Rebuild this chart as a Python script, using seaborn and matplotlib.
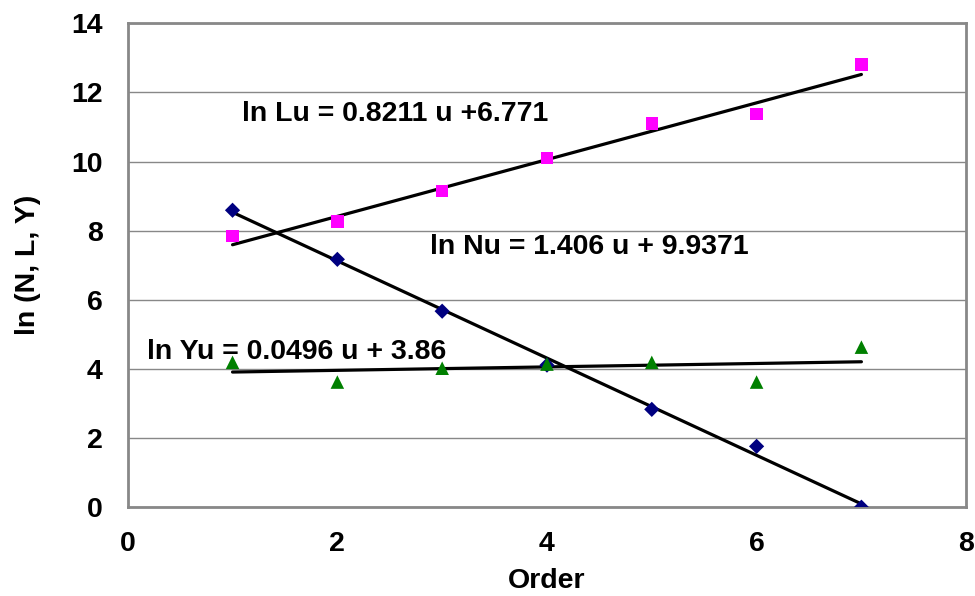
import numpy as np
import pandas as pd
import matplotlib
matplotlib.use("Agg")
import matplotlib.pyplot as plt
import seaborn as sns

# values
order = [1, 2, 3, 4, 5, 6, 7]
ln_L = [7.84, 8.27, 9.14, 10.1, 11.1, 11.37, 12.81]
ln_N = [8.59, 7.17, 5.67, 4.11, 2.83, 1.76, 0.0]
ln_Y = [4.19, 3.62, 4.02, 4.14, 4.19, 3.62, 4.63]

# trendline coefficients as printed in the equations
fit_slopes = {"L": 0.8211, "N": -1.406, "Y": 0.0496}
fit_inters = {"L": 6.771, "N": 9.9371, "Y": 3.86}
eq_labels = {
    "L": "ln Lu = 0.8211 u +6.771",
    "N": "ln Nu = 1.406 u + 9.9371",
    "Y": "ln Yu = 0.0496 u + 3.86",
}
eq_pos = {"L": (1.09, 11.38), "N": (2.88, 7.52), "Y": (0.18, 4.5)}

sns.set_style("white")
plt.rcParams["font.family"] = ["Liberation Sans", "DejaVu Sans"]
plt.rcParams["font.weight"] = "bold"
plt.rcParams["text.color"] = "black"
plt.rcParams["axes.labelcolor"] = "black"

FS = 20.5

df = pd.DataFrame({"u": order * 3,
                   "val": ln_N + ln_L + ln_Y,
                   "series": ["N"] * 7 + ["L"] * 7 + ["Y"] * 7})

fig = plt.figure(figsize=(9.75, 5.96), dpi=100)
ax = fig.add_axes([0.131, 0.149, 0.86, 0.812])

palette = {"N": "#000080", "L": "#ff00ff", "Y": "#008000"}
markers = {"N": "D", "L": "s", "Y": "^"}
sizes = {"N": 60, "L": 80, "Y": 95}

# trend lines first so markers sit on top
for key in ["L", "N", "Y"]:
    xs = np.array([min(order), max(order)])
    ax.plot(xs, fit_slopes[key] * xs + fit_inters[key], color="black", lw=2.3, zorder=2)

for key in ["N", "L", "Y"]:
    sub = df[df["series"] == key]
    sns.scatterplot(data=sub, x="u", y="val", color=palette[key], marker=markers[key],
                    s=sizes[key], edgecolor="none", ax=ax, zorder=3, legend=False)

for key, txt in eq_labels.items():
    ax.text(eq_pos[key][0], eq_pos[key][1], txt, fontsize=FS, fontweight="bold",
            color="black", va="center", ha="left", zorder=4)

ax.set_xlim(0, 8)
ax.set_ylim(0, 14)
ax.set_xticks(range(0, 9, 2))
ax.set_yticks(range(0, 15, 2))
ax.yaxis.grid(True, color="#888888", lw=1)
ax.xaxis.grid(False)
ax.set_axisbelow(True)

for sp in ax.spines.values():
    sp.set_color("#888888")
    sp.set_linewidth(2)

ax.tick_params(axis="both", which="both", direction="out", length=6, width=1,
               color="#555555", labelcolor="black", labelsize=FS)
ax.tick_params(axis="x", pad=11)
ax.tick_params(axis="y", pad=12)
for lab in ax.get_xticklabels() + ax.get_yticklabels():
    lab.set_fontweight("bold")

ax.set_xlabel("Order", fontsize=FS, fontweight="bold", labelpad=8)
ax.set_ylabel("ln (N, L, Y)", fontsize=FS, fontweight="bold", labelpad=22)

fig.savefig("out.png", dpi=100)
